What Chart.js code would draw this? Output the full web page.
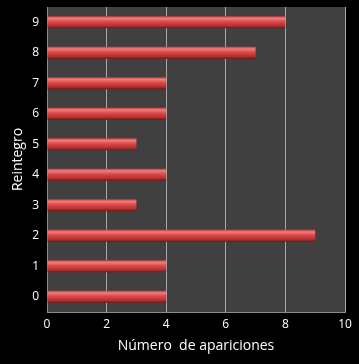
<!DOCTYPE html>
<html>
<head>
<meta charset="utf-8">
<script src="https://cdn.jsdelivr.net/npm/chart.js@4"></script>
<style>
  html, body { margin: 0; padding: 0; background: #000; }
  #wrap { width: 359px; height: 364px; }
</style>
</head>
<body>
<div id="wrap"><canvas id="chart" width="359" height="364"></canvas></div>
<script>
// datos
var reintegros = ["0", "1", "2", "3", "4", "5", "6", "7", "8", "9"];
var apariciones = [4, 4, 9, 3, 4, 3, 4, 4, 7, 8];
var ticksX = [0, 2, 4, 6, 8, 10];

var fondoPlot = {
  id: "fondoPlot",
  beforeDraw(chart) {
    const { ctx, chartArea: a } = chart;
    ctx.save();
    ctx.fillStyle = "#000";
    ctx.fillRect(0, 0, chart.width, chart.height);
    ctx.fillStyle = "#404040";
    ctx.fillRect(a.left, a.top, a.right - a.left, a.bottom - a.top);
    ctx.restore();
  }
};

function barraRoja(context) {
  const chart = context.chart;
  const y = chart.scales.y;
  if (!y || context.dataIndex === undefined) return "#d04444";
  const c = y.getPixelForValue(context.dataIndex);
  if (!isFinite(c)) return "#d04444";
  const h = 12;
  const g = chart.ctx.createLinearGradient(0, c - h / 2, 0, c + h / 2);
  g.addColorStop(0, "#c04040");
  g.addColorStop(0.18, "#f27c7c");
  g.addColorStop(0.45, "#dc4a4a");
  g.addColorStop(0.8, "#b53030");
  g.addColorStop(1, "#6e1818");
  return g;
}

const ctx = document.getElementById("chart").getContext("2d");
new Chart(ctx, {
  type: "bar",
  data: {
    labels: reintegros,
    datasets: [{
      data: apariciones,
      backgroundColor: barraRoja,
      borderWidth: 0,
      categoryPercentage: 1,
      barPercentage: 0.4
    }]
  },
  plugins: [fondoPlot],
  options: {
    indexAxis: "y",
    responsive: false,
    animation: false,
    layout: { padding: { top: 7, right: 14, left: 0, bottom: 0 } },
    plugins: { legend: { display: false }, tooltip: { enabled: false } },
    scales: {
      x: {
        min: 0,
        max: 10,
        afterBuildTicks: s => { s.ticks = ticksX.map(v => ({ value: v })); },
        afterFit: s => { s.height = 52; s.paddingLeft = 0; s.paddingRight = 0; },
        ticks: { color: "#fff", font: { family: "Open Sans", size: 12 }, padding: 5 },
        grid: { color: "#a8a8a8", lineWidth: 1, drawTicks: false },
        border: { color: "#8c8c8c" },
        title: {
          display: true,
          text: "Número  de apariciones",
          color: "#fff",
          font: { family: "Open Sans", size: 14 },
          padding: { top: 4, bottom: 10 }
        }
      },
      y: {
        reverse: true,
        afterFit: s => { s.width = 47; s.paddingTop = 0; s.paddingBottom = 0; },
        ticks: { color: "#fff", font: { family: "Open Sans", size: 12 }, padding: 8 },
        grid: { display: false, drawTicks: false },
        border: { color: "#8c8c8c" },
        title: {
          display: true,
          text: "Reintegro",
          color: "#fff",
          font: { family: "Open Sans", size: 14 },
          padding: { top: 10, bottom: 0 }
        }
      }
    }
  }
});
</script>
</body>
</html>
